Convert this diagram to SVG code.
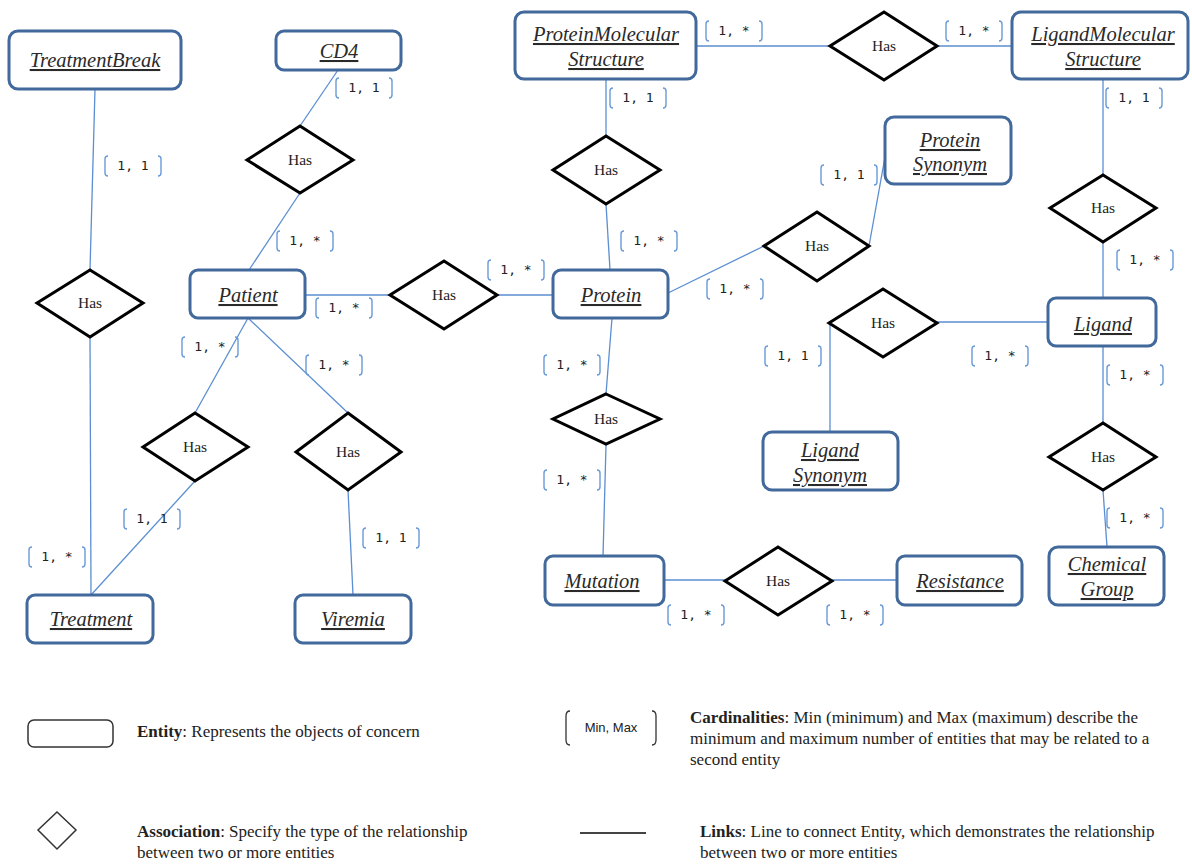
<svg xmlns="http://www.w3.org/2000/svg" width="1192" height="864" viewBox="0 0 1192 864">
<style>
.ent{fill:#fff;stroke:#42699b;stroke-width:3}
.et{font-family:"Liberation Serif",serif;font-style:italic;font-size:20.5px;text-decoration:underline;fill:#2a2a2a;text-anchor:middle}
.dia{fill:#fff;stroke:#000;stroke-width:3;stroke-linejoin:miter}
.dt{font-family:"Liberation Serif",serif;font-size:15.5px;fill:#222;text-anchor:middle}
.ln{stroke:#5b8ed2;stroke-width:1.3;fill:none}
.br{stroke:#6a9ad8;stroke-width:1.4;fill:none}
.ct{font-family:"DejaVu Sans Mono",monospace;font-size:13px;fill:#222;text-anchor:middle}
.lg{font-family:"Liberation Serif",serif;font-size:17px;fill:#222}
.lgb{font-weight:bold}
</style>
<rect width="1192" height="864" fill="#fff"/>
<g id="connectors">
<line class="ln" x1="95" y1="89" x2="90" y2="270"/>
<line class="ln" x1="90" y1="337" x2="91" y2="595"/>
<line class="ln" x1="338" y1="70" x2="300" y2="126"/>
<line class="ln" x1="300" y1="193" x2="249" y2="270"/>
<line class="ln" x1="305" y1="295" x2="390" y2="295"/>
<line class="ln" x1="497" y1="295" x2="553" y2="295"/>
<line class="ln" x1="248" y1="318" x2="195" y2="413"/>
<line class="ln" x1="195" y1="481" x2="91" y2="595"/>
<line class="ln" x1="248" y1="318" x2="348" y2="413"/>
<line class="ln" x1="348" y1="490" x2="353" y2="595"/>
<line class="ln" x1="696" y1="46" x2="830" y2="46"/>
<line class="ln" x1="937" y1="46" x2="1012" y2="46"/>
<line class="ln" x1="606" y1="79" x2="606" y2="136"/>
<line class="ln" x1="606" y1="204" x2="610" y2="270"/>
<line class="ln" x1="668" y1="293" x2="764" y2="246"/>
<line class="ln" x1="869" y1="246" x2="885" y2="157"/>
<line class="ln" x1="1103" y1="79" x2="1103" y2="175"/>
<line class="ln" x1="1103" y1="242" x2="1103" y2="298"/>
<line class="ln" x1="1048" y1="322" x2="937" y2="322"/>
<line class="ln" x1="830" y1="323" x2="830" y2="432"/>
<line class="ln" x1="612" y1="318" x2="606" y2="394"/>
<line class="ln" x1="606" y1="445" x2="603" y2="556"/>
<line class="ln" x1="664" y1="580" x2="725" y2="580"/>
<line class="ln" x1="832" y1="580" x2="897" y2="580"/>
<line class="ln" x1="1103" y1="346" x2="1103" y2="423"/>
<line class="ln" x1="1103" y1="490" x2="1107" y2="547"/>
</g>
<g id="e-treatmentbreak"><rect class="ent" x="9" y="31" width="172" height="58" rx="9"/><text class="et" x="95" y="67">TreatmentBreak</text></g>
<g id="e-cd4"><rect class="ent" x="276" y="31" width="125" height="39" rx="8"/><text class="et" x="339" y="58">CD4</text></g>
<g id="e-pms"><rect class="ent" x="515" y="12" width="181" height="67" rx="9"/><text class="et" x="606" y="41">ProteinMolecular</text><text class="et" x="606" y="66">Structure</text></g>
<g id="e-lms"><rect class="ent" x="1012" y="12" width="176" height="67" rx="9"/><text class="et" x="1103" y="41">LigandMolecular</text><text class="et" x="1103" y="66">Structure</text></g>
<g id="e-proteinsynonym"><rect class="ent" x="885" y="117" width="126" height="67" rx="9"/><text class="et" x="950" y="147">Protein</text><text class="et" x="950" y="171">Synonym</text></g>
<g id="e-patient"><rect class="ent" x="190" y="270" width="115" height="48" rx="8"/><text class="et" x="248" y="302">Patient</text></g>
<g id="e-protein"><rect class="ent" x="553" y="270" width="115" height="48" rx="8"/><text class="et" x="611" y="302">Protein</text></g>
<g id="e-ligand"><rect class="ent" x="1048" y="298" width="108" height="48" rx="8"/><text class="et" x="1103" y="331">Ligand</text></g>
<g id="e-ligandsynonym"><rect class="ent" x="763" y="432" width="135" height="58" rx="9"/><text class="et" x="830" y="457">Ligand</text><text class="et" x="830" y="482">Synonym</text></g>
<g id="e-mutation"><rect class="ent" x="545" y="556" width="119" height="49" rx="8"/><text class="et" x="602" y="588">Mutation</text></g>
<g id="e-resistance"><rect class="ent" x="897" y="556" width="125" height="49" rx="8"/><text class="et" x="960" y="588">Resistance</text></g>
<g id="e-chemicalgroup"><rect class="ent" x="1049" y="547" width="115" height="58" rx="9"/><text class="et" x="1107" y="571">Chemical</text><text class="et" x="1107" y="596">Group</text></g>
<g id="e-treatment"><rect class="ent" x="27" y="595" width="126" height="48" rx="8"/><text class="et" x="91" y="626">Treatment</text></g>
<g id="e-viremia"><rect class="ent" x="295" y="595" width="116" height="48" rx="8"/><text class="et" x="353" y="626">Viremia</text></g>
<g id="r-tb"><polygon class="dia" points="90,270 143,303 90,337 37,303"/><text class="dt" x="90" y="308">Has</text></g>
<g id="r-cd4"><polygon class="dia" points="300,126 353,160 300,193 247,160"/><text class="dt" x="300" y="165">Has</text></g>
<g id="r-pp"><polygon class="dia" points="444,261 497,295 444,329 390,295"/><text class="dt" x="444" y="300">Has</text></g>
<g id="r-pms"><polygon class="dia" points="606,136 660,170 606,204 553,170"/><text class="dt" x="606" y="175">Has</text></g>
<g id="r-ps"><polygon class="dia" points="817,212 869,246 817,281 764,246"/><text class="dt" x="817" y="251">Has</text></g>
<g id="r-lms"><polygon class="dia" points="884,12 937,46 884,80 830,46"/><text class="dt" x="884" y="51">Has</text></g>
<g id="r-lml"><polygon class="dia" points="1103,175 1156,208 1103,242 1050,208"/><text class="dt" x="1103" y="213">Has</text></g>
<g id="r-ls"><polygon class="dia" points="883,289 937,323 883,357 829,323"/><text class="dt" x="883" y="328">Has</text></g>
<g id="r-pm"><polygon class="dia" points="606,394 660,419 606,444 553,419"/><text class="dt" x="606" y="424">Has</text></g>
<g id="r-mr"><polygon class="dia" points="778,547 832,581 778,615 725,581"/><text class="dt" x="778" y="586">Has</text></g>
<g id="r-pt"><polygon class="dia" points="195,413 248,447 195,481 143,447"/><text class="dt" x="195" y="452">Has</text></g>
<g id="r-pv"><polygon class="dia" points="348,413 401,452 348,490 296,452"/><text class="dt" x="348" y="457">Has</text></g>
<g id="r-lc"><polygon class="dia" points="1103,423 1156,457 1103,490 1049,457"/><text class="dt" x="1103" y="462">Has</text></g>
<g id="cardinalities">
<g transform="translate(104,166)"><path class="br" d="M4,-10 Q1,-10 1,-7 V7 Q1,10 4,10 M54,-10 Q57,-10 57,-7 V7 Q57,10 54,10"/><text class="ct" x="29" y="4">1, 1</text></g>
<g transform="translate(335,88)"><path class="br" d="M4,-10 Q1,-10 1,-7 V7 Q1,10 4,10 M54,-10 Q57,-10 57,-7 V7 Q57,10 54,10"/><text class="ct" x="29" y="4">1, 1</text></g>
<g transform="translate(276,241)"><path class="br" d="M4,-10 Q1,-10 1,-7 V7 Q1,10 4,10 M54,-10 Q57,-10 57,-7 V7 Q57,10 54,10"/><text class="ct" x="29" y="4">1, *</text></g>
<g transform="translate(315,308)"><path class="br" d="M4,-10 Q1,-10 1,-7 V7 Q1,10 4,10 M54,-10 Q57,-10 57,-7 V7 Q57,10 54,10"/><text class="ct" x="29" y="4">1, *</text></g>
<g transform="translate(487,270)"><path class="br" d="M4,-10 Q1,-10 1,-7 V7 Q1,10 4,10 M54,-10 Q57,-10 57,-7 V7 Q57,10 54,10"/><text class="ct" x="29" y="4">1, *</text></g>
<g transform="translate(181,347)"><path class="br" d="M4,-10 Q1,-10 1,-7 V7 Q1,10 4,10 M54,-10 Q57,-10 57,-7 V7 Q57,10 54,10"/><text class="ct" x="29" y="4">1, *</text></g>
<g transform="translate(305,365)"><path class="br" d="M4,-10 Q1,-10 1,-7 V7 Q1,10 4,10 M54,-10 Q57,-10 57,-7 V7 Q57,10 54,10"/><text class="ct" x="29" y="4">1, *</text></g>
<g transform="translate(123,519)"><path class="br" d="M4,-10 Q1,-10 1,-7 V7 Q1,10 4,10 M54,-10 Q57,-10 57,-7 V7 Q57,10 54,10"/><text class="ct" x="29" y="4">1, 1</text></g>
<g transform="translate(28,557)"><path class="br" d="M4,-10 Q1,-10 1,-7 V7 Q1,10 4,10 M54,-10 Q57,-10 57,-7 V7 Q57,10 54,10"/><text class="ct" x="29" y="4">1, *</text></g>
<g transform="translate(362,538)"><path class="br" d="M4,-10 Q1,-10 1,-7 V7 Q1,10 4,10 M54,-10 Q57,-10 57,-7 V7 Q57,10 54,10"/><text class="ct" x="29" y="4">1, 1</text></g>
<g transform="translate(705,31)"><path class="br" d="M4,-10 Q1,-10 1,-7 V7 Q1,10 4,10 M54,-10 Q57,-10 57,-7 V7 Q57,10 54,10"/><text class="ct" x="29" y="4">1, *</text></g>
<g transform="translate(945,31)"><path class="br" d="M4,-10 Q1,-10 1,-7 V7 Q1,10 4,10 M54,-10 Q57,-10 57,-7 V7 Q57,10 54,10"/><text class="ct" x="29" y="4">1, *</text></g>
<g transform="translate(609,98)"><path class="br" d="M4,-10 Q1,-10 1,-7 V7 Q1,10 4,10 M54,-10 Q57,-10 57,-7 V7 Q57,10 54,10"/><text class="ct" x="29" y="4">1, 1</text></g>
<g transform="translate(620,241)"><path class="br" d="M4,-10 Q1,-10 1,-7 V7 Q1,10 4,10 M54,-10 Q57,-10 57,-7 V7 Q57,10 54,10"/><text class="ct" x="29" y="4">1, *</text></g>
<g transform="translate(820,175)"><path class="br" d="M4,-10 Q1,-10 1,-7 V7 Q1,10 4,10 M54,-10 Q57,-10 57,-7 V7 Q57,10 54,10"/><text class="ct" x="29" y="4">1, 1</text></g>
<g transform="translate(706,289)"><path class="br" d="M4,-10 Q1,-10 1,-7 V7 Q1,10 4,10 M54,-10 Q57,-10 57,-7 V7 Q57,10 54,10"/><text class="ct" x="29" y="4">1, *</text></g>
<g transform="translate(1105,98)"><path class="br" d="M4,-10 Q1,-10 1,-7 V7 Q1,10 4,10 M54,-10 Q57,-10 57,-7 V7 Q57,10 54,10"/><text class="ct" x="29" y="4">1, 1</text></g>
<g transform="translate(1116,260)"><path class="br" d="M4,-10 Q1,-10 1,-7 V7 Q1,10 4,10 M54,-10 Q57,-10 57,-7 V7 Q57,10 54,10"/><text class="ct" x="29" y="4">1, *</text></g>
<g transform="translate(764,356)"><path class="br" d="M4,-10 Q1,-10 1,-7 V7 Q1,10 4,10 M54,-10 Q57,-10 57,-7 V7 Q57,10 54,10"/><text class="ct" x="29" y="4">1, 1</text></g>
<g transform="translate(971,356)"><path class="br" d="M4,-10 Q1,-10 1,-7 V7 Q1,10 4,10 M54,-10 Q57,-10 57,-7 V7 Q57,10 54,10"/><text class="ct" x="29" y="4">1, *</text></g>
<g transform="translate(1106,375)"><path class="br" d="M4,-10 Q1,-10 1,-7 V7 Q1,10 4,10 M54,-10 Q57,-10 57,-7 V7 Q57,10 54,10"/><text class="ct" x="29" y="4">1, *</text></g>
<g transform="translate(543,365)"><path class="br" d="M4,-10 Q1,-10 1,-7 V7 Q1,10 4,10 M54,-10 Q57,-10 57,-7 V7 Q57,10 54,10"/><text class="ct" x="29" y="4">1, *</text></g>
<g transform="translate(543,480)"><path class="br" d="M4,-10 Q1,-10 1,-7 V7 Q1,10 4,10 M54,-10 Q57,-10 57,-7 V7 Q57,10 54,10"/><text class="ct" x="29" y="4">1, *</text></g>
<g transform="translate(1106,518)"><path class="br" d="M4,-10 Q1,-10 1,-7 V7 Q1,10 4,10 M54,-10 Q57,-10 57,-7 V7 Q57,10 54,10"/><text class="ct" x="29" y="4">1, *</text></g>
<g transform="translate(667,615)"><path class="br" d="M4,-10 Q1,-10 1,-7 V7 Q1,10 4,10 M54,-10 Q57,-10 57,-7 V7 Q57,10 54,10"/><text class="ct" x="29" y="4">1, *</text></g>
<g transform="translate(826,615)"><path class="br" d="M4,-10 Q1,-10 1,-7 V7 Q1,10 4,10 M54,-10 Q57,-10 57,-7 V7 Q57,10 54,10"/><text class="ct" x="29" y="4">1, *</text></g>
</g>
<g id="legend">
<rect x="28" y="720" width="85" height="27" rx="6" fill="#fff" stroke="#333" stroke-width="1.5"/>
<text class="lg" x="137" y="737"><tspan class="lgb">Entity</tspan>: Represents the objects of concern</text>
<path d="M570,711 Q566,711 566,716 V740 Q566,745 570,745 M652,711 Q656,711 656,716 V740 Q656,745 652,745" fill="none" stroke="#333" stroke-width="1.3"/>
<text x="611" y="732" font-family="Liberation Sans Narrow,Liberation Sans,sans-serif" font-size="13" fill="#222" text-anchor="middle">Min, Max</text>
<text class="lg" x="690" y="723"><tspan class="lgb">Cardinalities</tspan>: Min (minimum) and Max (maximum) describe the</text>
<text class="lg" x="690" y="744">minimum and maximum number of entities that may be related to a</text>
<text class="lg" x="690" y="765">second entity</text>
<polygon points="57,812 76,830 57,849 38,830" fill="#fff" stroke="#333" stroke-width="1.5"/>
<text class="lg" x="137" y="837"><tspan class="lgb">Association</tspan>: Specify the type of the relationship</text>
<text class="lg" x="137" y="858">between two or more entities</text>
<line x1="580" y1="833" x2="646" y2="833" stroke="#444" stroke-width="2"/>
<text class="lg" x="700" y="837"><tspan class="lgb">Links</tspan>: Line to connect Entity, which demonstrates the relationship</text>
<text class="lg" x="700" y="858">between two or more entities</text>
</g>
</svg>
